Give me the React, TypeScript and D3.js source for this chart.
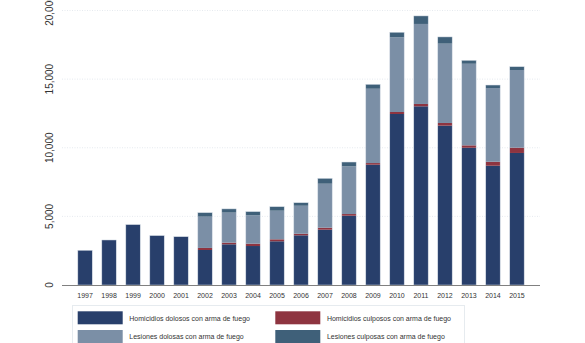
import React from "react";
import * as d3 from "d3";

const years = ["1997","1998","1999","2000","2001","2002","2003","2004","2005","2006","2007","2008","2009","2010","2011","2012","2013","2014","2015"];
const homDolosos = [2530, 3280, 4400, 3600, 3520, 2550, 2965, 2840, 3185, 3620, 4030, 5050, 8765, 12460, 13020, 11610, 10000, 8690, 9620];
const homCulposos = [0, 0, 0, 0, 0, 150, 120, 170, 145, 115, 145, 120, 120, 145, 170, 195, 175, 290, 385];
const lesDolosas = [0, 0, 0, 0, 0, 2280, 2190, 2070, 2085, 2040, 3205, 3475, 5415, 5445, 5830, 5780, 5945, 5370, 5660];
const lesCulposas = [0, 0, 0, 0, 0, 290, 270, 265, 290, 220, 390, 315, 320, 365, 585, 490, 250, 220, 240];
const yTicks = [0, 5000, 10000, 15000, 20000];

const seriesNames = [
  "Homicidios dolosos con arma de fuego",
  "Homicidios culposos con arma de fuego",
  "Lesiones dolosas con arma de fuego",
  "Lesiones culposas con arma de fuego",
];
const colors = ["#283f6b", "#8e3440", "#7b8fa6", "#3f6079"];

export default function App() {
  const W = 585, H = 343;
  const x = d3.scaleBand<string>().domain(years).range([62, 540]).paddingInner(0.4).paddingOuter(0.66);
  const y = d3.scaleLinear().domain([0, 20000]).range([285, 10.5]);

  const table = years.map((yr, i) => ({
    year: yr,
    s0: homDolosos[i],
    s1: homCulposos[i],
    s2: lesDolosas[i],
    s3: lesCulposas[i],
  }));
  const stack = d3.stack<any>().keys(["s0", "s1", "s2", "s3"]);
  const layers = stack(table);
  const fmt = d3.format(",");
  const font = "'Liberation Sans', Arial, Helvetica, sans-serif";

  const legendItems = [
    { col: 0, row: 0, s: 0 },
    { col: 1, row: 0, s: 1 },
    { col: 0, row: 1, s: 2 },
    { col: 1, row: 1, s: 3 },
  ];

  return (
    <svg width={W} height={H} style={{ position: "absolute", left: 0, top: 0, background: "#fff" }} fontFamily={font}>
      <rect x={0} y={0} width={W} height={H} fill="#ffffff" />
      {/* gridlines */}
      {yTicks.filter((t) => t > 0).map((t) => (
        <line key={t} x1={62} x2={540} y1={y(t)} y2={y(t)} stroke="#dfe5eb" strokeWidth={0.8} strokeDasharray="1,1.5" />
      ))}
      {/* y tick labels */}
      {yTicks.map((t) => (
        <text key={t} transform={`translate(53,${y(t)}) rotate(-90)`} textAnchor="middle" fontSize={10} fill="#333">
          {fmt(t)}
        </text>
      ))}
      {/* bars */}
      {layers.map((layer, li) => (
        <g key={li} fill={colors[li]}>
          {layer.map((d: any, i: number) => {
            const h = y(d[0]) - y(d[1]);
            if (h <= 0) return null;
            return <rect key={i} x={x(d.data.year)} y={y(d[1])} width={x.bandwidth()} height={h} />;
          })}
        </g>
      ))}
      {/* bar outlines */}
      {table.map((d, i) => {
        const tot = d.s0 + d.s1 + d.s2 + d.s3;
        return (
          <rect key={i} x={x(d.year)} y={y(tot)} width={x.bandwidth()} height={y(0) - y(tot)} fill="none" stroke="#d6dde6" strokeWidth={0.5} />
        );
      })}
      {/* x axis */}
      <line x1={62} x2={540} y1={285.5} y2={285.5} stroke="#808080" strokeWidth={1} />
      {years.map((yr) => (
        <text key={yr} x={(x(yr) as number) + x.bandwidth() / 2} y={298} textAnchor="middle" fontSize={7} fill="#333">
          {yr}
        </text>
      ))}
      {/* legend */}
      <rect x={72.5} y={305.5} width={392} height={50} fill="#fff" stroke="#e6ebef" strokeWidth={1} />
      {legendItems.map((it) => {
        const sx = it.col === 0 ? 77.7 : 275.3;
        const sy = it.row === 0 ? 311.3 : 330;
        return (
          <g key={it.s}>
            <rect x={sx} y={sy} width={45} height={13} fill={colors[it.s]} />
            <text x={sx + 51.6} y={sy + 9.3} fontSize={7} fill="#333">
              {seriesNames[it.s]}
            </text>
          </g>
        );
      })}
    </svg>
  );
}
